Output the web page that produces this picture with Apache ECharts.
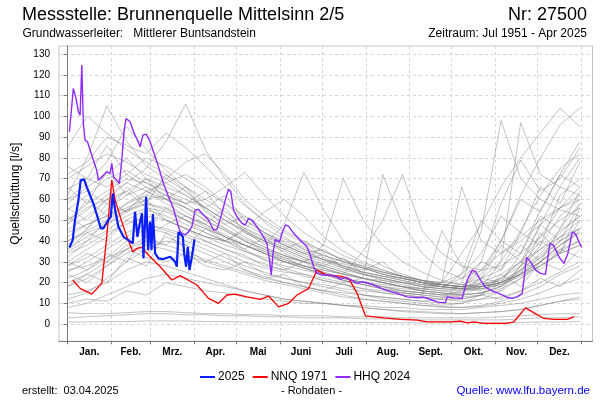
<!DOCTYPE html>
<html><head><meta charset="utf-8">
<script src="https://cdn.jsdelivr.net/npm/echarts@6/dist/echarts.min.js"></script>
<style>html,body{margin:0;padding:0;background:#fff}#c{width:600px;height:400px}</style>
</head><body><div id="c"></div>
<script>
// axis ticks / labels
const monthTickDays = [0,31,59,90,120,151,181,212,243,273,304,334,365];
const monthLabelDays = [15.5,45,74.5,105,135.5,166,196.5,227.5,258,288.5,319,349.5];
const monthLabels = ['Jan.','Feb.','Mrz.','Apr.','Mai','Juni','Juli','Aug.','Sept.','Okt.','Nov.','Dez.'];
const yTicks = [0,10,20,30,40,50,60,70,80,90,100,110,120,130];

// 2025 (blue)
const days2025 = [1.4,3.7,5.4,7.8,9.4,11.8,13.7,16,18.4,21.3,23.7,25.5,27.9,30.8,32.2,33.9,36.2,39.8,43.3,46.4,48,49.7,51.6,53,54,55.9,57.3,58.7,59.7,60.7,62.3,64.7,68.2,73,76.5,77.7,78.9,80.1,82,82.9,84.3,85.5,86.7,88.4,90.3];
const q2025 = [36.9,40.4,50.1,59.7,69.3,69.7,66.1,62.1,58.1,51.7,46.1,46.1,48.8,51.7,62.9,54.9,46.9,42,40.4,38.8,54.1,42,49.3,53.3,31.6,61.3,35.6,49.3,35.6,53,34,31.6,31.3,32.4,30,27.6,44.4,43.7,42,34,27.6,37.2,26,32.4,40.8];

// NNQ 1971 (red)
const daysNNQ = [3.8,9,17.3,24.4,27.9,31.5,33.9,38.6,42.2,46.4,49.3,52.8,58.7,65.9,74.2,80.1,92,100.2,107.3,113.3,119.2,127.5,137,142.9,150,157.1,163.1,171.4,177.3,184.4,193.9,199.8,205.8,211.7,224.7,236.6,248.4,255.5,272.1,279.2,284,288.7,295.8,312.4,317.1,325.5,331.4,338.5,345.6,355.1,359.8];
const qNNQ = [21.2,17.2,14.4,19.6,42,69.3,59.7,49.3,42,34.8,36.4,36.9,32.4,27.6,21.2,23.3,18.8,12.4,10,14,14.4,13.1,11.9,13.5,8.3,10,14,17.2,26,23.6,23.1,22,14.8,3.9,3,2.3,1.9,1.1,1.1,1.4,0.6,1.1,0.3,0.3,1.1,7.8,5.4,2.7,2.3,2.3,3.5];

// HHQ 2024 (purple)
const daysHHQ = [1.4,4.2,6.1,7.8,9,10.2,11.3,12.5,14.2,16.1,18.4,20.8,22,23.2,25.5,27.9,30.3,31.5,32.7,35.1,36.9,38.6,40.3,41.7,44.5,47.4,49.7,51.6,53.6,55.9,58.3,61.1,64.7,68.2,71.8,75.3,78.9,80.6,83.6,86,88.4,90.7,93.1,96.7,100.2,103.8,106.2,109.7,112.1,114.4,116.1,118,120.4,124,126.3,128.7,131.1,134.6,139.3,141.7,143.6,144.8,146,147.7,150.7,152.4,154.8,157.1,160.7,165.4,170.2,172.5,174.9,177.3,180.9,186.8,191.5,193.9,197.4,201,205.8,209.3,212.9,217.6,224.7,229.4,234.2,241.3,248.4,253.1,259.1,262.7,266.2,268.6,269.8,274.5,280.4,284,287.6,289.9,293.5,297,302.9,307.7,312.4,316,319.6,323.1,326.2,329,332.6,336.1,339.6,342.7,345.2,349.1,352.7,355.5,358.7,361,363.4,365.3];
const qHHQ = [92.6,113.5,108.7,102.2,100.6,124.7,96.6,88.6,87.8,83.8,79,74.1,69.3,69.3,71.7,73.3,72.6,77.4,70.9,69.3,67.7,79,93.4,99,97.4,91.8,88.6,85.4,91,91.5,88.6,83,75.7,67.7,61.3,55.7,46.8,44,42.9,44.4,46.9,54.9,55.2,52.5,50.1,45.3,45.6,53.3,59.7,64.9,63.7,54.9,51.7,48.5,47.7,50.9,50.1,46.9,42,38.8,30.8,23.6,34,40.8,39.6,43.7,47.7,47.2,43.7,40.4,37.2,33.2,27.6,24.4,23.6,23.6,22.8,21.5,22.5,21.5,19.6,20.4,19.9,18.8,16.7,15.6,14.8,13.1,12.7,12.9,11.6,10.7,10.3,10.5,13.1,12.6,12.4,21.2,26,25.2,21.2,17.7,15.6,14.4,12.8,12.4,13.1,14.8,32.1,30,26,24.4,23.9,38.8,38,32.4,29.2,34,44.4,43.3,39.6,36.9];

// earlier years (grey), sampled every 14 days
const histDays = [0,14,28,42,56,70,84,98,112,126,140,154,168,182,196,210,224,238,252,266,280,294,308,322,336,350,364];
const histYears = [
 [62,80,105,88,76,70,64,55,48,42,37,33,30,27,24,22,20,18,16,15,14,15,18,26,38,52,60],
 [45,52,60,68,75,88,106,84,70,58,49,42,36,31,27,24,21,19,17,16,17,22,30,45,62,75,82],
 [58,66,72,80,70,64,58,52,46,40,36,32,28,25,22,20,18,17,16,20,34,48,66,80,92,104,95],
 [14,16,20,26,30,28,25,22,19,16,14,12,11,10,9,8,7,6.5,6,5.5,5,5.5,6,7,9,11,12],
 [38,46,55,62,66,60,56,50,45,40,35,31,28,25,22,20,18,16,15,14,13,14,16,22,28,35,40],
 [30,36,42,50,55,52,48,44,40,45,38,48,73,55,40,33,28,24,21,19,18,20,24,30,36,42,46],
 [50,58,64,70,68,62,56,50,45,40,36,33,30,38,70,50,38,30,25,21,19,18,20,24,30,38,44],
 [25,30,36,42,48,45,42,38,34,30,27,25,24,22,20,22,72,48,34,26,22,26,34,42,50,56,60],
 [20,24,30,36,40,38,35,31,28,25,22,20,18,16,15,14,13,12,11,12,20,45,98,70,60,55,52],
 [35,40,45,52,56,54,50,46,42,38,34,30,27,24,21,19,17,15,14,13,14,18,30,97,72,66,62],
 [42,48,52,58,62,60,56,52,46,41,37,33,30,27,24,22,20,18,17,20,66,40,34,40,48,56,62],
 [18,22,28,34,38,36,33,30,27,24,21,19,17,15,13,12,11,10,9,8.5,8,8.5,10,12,15,19,22],
 [5.5,5,5,5.5,6,6,5.5,5,5,4.5,4.5,4,4,4,3.5,3.5,3.5,3,3,3,3,3,3.5,4,4.5,5,5],
 [1,1,1.2,1.2,1.5,1.5,1.5,1.2,1.2,1,1,1,1,0.8,0.8,0.8,0.8,0.6,0.6,0.6,0.6,0.6,0.6,0.8,1,1,1.2],
 [3,3.5,4,4.5,5,5,4.5,4.5,4,4,3.5,3.5,3,3,3,2.5,2.5,2.5,2,2,2,2,2,2.5,3,3,3.5],
 [85,100,92,84,78,72,66,60,54,48,43,38,34,31,28,25,23,21,19,18,17,17,19,24,30,38,45],
 [72,78,90,86,82,92,85,76,66,57,50,44,39,35,31,28,25,23,21,19,18,19,22,28,36,45,52],
 [40,44,48,55,62,70,78,82,72,60,52,45,40,35,31,27,24,22,20,18,17,17,19,23,28,34,38],
 [22,26,32,40,46,44,40,36,32,28,25,22,20,18,16,14,13,12,11,10,10,12,16,28,48,66,80],
 [48,55,62,68,64,60,54,48,43,38,34,30,27,24,21,19,17,15,14,13,12,14,20,34,55,72,88],
 [55,62,70,74,68,64,60,56,50,45,40,36,32,28,25,22,20,18,16,15,14,15,17,22,30,38,44],
 [32,40,50,58,64,68,62,56,50,44,39,35,31,28,25,22,20,18,16,15,14,15,18,24,32,40,46],
 [12,15,22,30,36,40,38,34,30,26,23,20,18,16,14,12,11,10,9,8,8,9,11,14,18,24,28],
 [65,70,66,72,80,76,70,64,58,52,46,41,37,33,30,27,24,22,20,19,18,19,21,26,33,42,50],
 [28,32,38,44,48,46,43,40,36,32,29,26,23,21,19,17,16,15,14,45,28,22,20,24,30,36,40],
 [44,48,52,56,60,62,58,60,66,73,62,52,44,38,33,29,26,23,21,19,18,18,20,25,32,40,46],
 [36,42,48,54,58,55,50,46,42,38,34,31,28,26,24,35,50,72,45,34,28,26,28,34,42,50,56],
 [50,56,60,64,70,66,62,56,50,45,40,36,32,29,26,24,22,20,18,17,18,24,40,62,80,96,104],
 [8,10,14,18,22,24,22,20,18,16,14,12,11,10,9,8,7,6,5.5,5,5,5.5,6,7,9,11,13],
 [60,68,78,95,84,74,66,58,52,46,41,37,33,30,27,24,22,20,18,17,16,17,20,26,34,44,52],
 [26,28,32,36,42,48,52,48,42,36,31,27,24,21,19,17,15,14,13,12,11,12,13,16,20,25,30],
 [70,76,82,78,72,68,72,66,58,50,44,39,35,31,28,25,23,21,19,18,17,18,22,30,42,56,66],
 [40,45,50,55,58,56,52,47,42,38,34,30,27,24,22,20,18,16,15,14,16,30,58,79,64,70,85],
 [34,38,44,48,52,50,46,42,40,46,54,60,52,42,35,30,26,23,20,18,17,18,20,24,28,34,38],
 [48,60,52,66,58,72,64,56,62,50,44,40,36,33,30,28,25,23,21,20,19,22,26,38,30,46,58],
 [30,26,34,30,42,38,46,40,36,33,28,26,30,24,21,19,17,16,15,14,15,20,18,28,40,34,50],
 [66,58,74,62,70,60,66,54,48,52,44,38,34,36,30,27,24,22,20,18,22,30,26,44,38,62,70],
 [18,24,20,32,28,44,36,30,34,26,22,24,18,16,20,14,12,11,10,9,10,14,24,18,30,26,36],
 [56,50,60,54,64,58,52,48,56,44,40,36,40,32,28,26,30,22,20,19,18,26,40,34,52,46,64],
 [76,70,86,72,66,62,58,64,52,46,42,38,34,31,29,27,25,23,21,20,24,34,52,44,66,58,78],
 [10,12,11,16,14,20,18,16,15,13,12,11,10,10,9,9,8,8,7,7,7,8,9,10,12,14,15],
 [36,44,40,50,46,56,50,44,40,36,42,34,30,28,32,24,22,20,19,18,17,16,22,30,26,36,32],
 [52,46,58,64,56,50,46,42,38,35,32,30,28,26,24,22,21,20,18,17,24,50,40,60,54,72,66],
 [24,20,28,36,32,30,34,28,26,30,24,22,20,19,17,16,15,14,13,12,12,14,12,16,22,18,26],
 [60,64,58,54,60,50,46,42,40,38,35,32,30,34,27,25,23,22,20,19,18,18,20,24,44,34,56],
 [28,34,30,38,34,42,38,46,40,35,31,28,26,24,22,20,19,18,17,16,15,22,38,30,48,40,58]
];

const pairs = (xs, ys) => xs.map((x, i) => [x, ys[i]]);
const FONT = '"Liberation Sans", Arial, sans-serif';

const series = [];
histYears.forEach((ys, k) => {
  series.push({
    name: 'hist' + k, type: 'line', data: pairs(histDays, ys),
    symbol: 'none', silent: true, z: 1,
    lineStyle: { color: 'rgba(125,125,125,0.5)', width: 0.9 }
  });
});
series.push({ name: 'NNQ 1971', type: 'line', data: pairs(daysNNQ, qNNQ), symbol: 'none', z: 3, color: '#ff0000', lineStyle: { color: '#ff0000', width: 1.3 } });
series.push({ name: 'HHQ 2024', type: 'line', data: pairs(daysHHQ, qHHQ), symbol: 'none', z: 4, color: '#8f2bff', lineStyle: { color: '#8f2bff', width: 1.4 } });
series.push({ name: '2025', type: 'line', data: pairs(days2025, q2025), symbol: 'none', z: 5, color: '#0a1eff', lineStyle: { color: '#0a1eff', width: 2.2 } });

const chart = echarts.init(document.getElementById('c'), null, { renderer: 'canvas' });
chart.setOption({
  animation: false,
  backgroundColor: '#fff',
  textStyle: { fontFamily: FONT },
  grid: { left: 59, right: 7.5, top: 46, bottom: 58.7, show: true, borderColor: '#c4c4c4', borderWidth: 1 },
  xAxis: {
    type: 'value', min: -6, max: 373,
    axisLine: { show: true, onZero: false, lineStyle: { color: '#7a7a7a', width: 1 } },
    axisTick: { show: true, customValues: monthTickDays, length: 3, lineStyle: { color: '#7a7a7a' } },
    axisLabel: { customValues: monthLabelDays, formatter: v => monthLabels[monthLabelDays.indexOf(v)] || '',
                 fontSize: 10, fontWeight: 'bold', color: '#000', margin: 6, fontFamily: FONT },
    splitLine: { show: true, lineStyle: { color: '#d6d6d6', type: [3, 3], width: 1 } }
  },
  yAxis: {
    type: 'value', min: -8.3, max: 133.9,
    name: 'Quellschüttung [l/s]', nameLocation: 'middle', nameGap: 37,
    nameTextStyle: { fontSize: 12, color: '#000', fontFamily: FONT },
    axisLine: { show: true, lineStyle: { color: '#7a7a7a', width: 1 } },
    axisTick: { show: true, customValues: yTicks, length: 4, lineStyle: { color: '#7a7a7a' } },
    axisLabel: { customValues: yTicks, fontSize: 10, color: '#000', margin: 9, fontFamily: FONT },
    splitLine: { show: true, lineStyle: { color: '#d6d6d6', type: [3, 3], width: 1 } }
  },
  legend: {
    left: 195, top: 366, icon: 'rect', itemWidth: 15, itemHeight: 2, itemGap: 8,
    data: ['2025', 'NNQ 1971', 'HHQ 2024'], selectedMode: false,
    textStyle: { fontSize: 12, color: '#000', fontFamily: FONT, padding: [0, 0, 0, -2] }
  },
  graphic: [
    { type: 'text', style: { x: 22, y: 15, text: 'Messstelle: Brunnenquelle Mittelsinn 2/5', font: '18px ' + FONT, fill: '#000', textVerticalAlign: 'middle' } },
    { type: 'text', style: { x: 587, y: 15, text: 'Nr: 27500', font: '18px ' + FONT, fill: '#000', textAlign: 'right', textVerticalAlign: 'middle' } },
    { type: 'text', style: { x: 22.5, y: 33.5, text: 'Grundwasserleiter:   Mittlerer Buntsandstein', font: '12px ' + FONT, fill: '#000', textVerticalAlign: 'middle' } },
    { type: 'text', style: { x: 587, y: 33.5, text: 'Zeitraum: Jul 1951 - Apr 2025', font: '12px ' + FONT, fill: '#000', textAlign: 'right', textVerticalAlign: 'middle' } },
    { type: 'text', style: { x: 22, y: 391, text: 'erstellt:  03.04.2025', font: '11px ' + FONT, fill: '#000', textVerticalAlign: 'middle' } },
    { type: 'text', style: { x: 311.5, y: 391, text: '- Rohdaten -', font: '11px ' + FONT, fill: '#000', textAlign: 'center', textVerticalAlign: 'middle' } },
    { type: 'text', style: { x: 590, y: 391, text: 'Quelle: www.lfu.bayern.de', font: '11.5px ' + FONT, fill: '#0000ff', textAlign: 'right', textVerticalAlign: 'middle' } }
  ],
  series: series
});
</script>
</body></html>
